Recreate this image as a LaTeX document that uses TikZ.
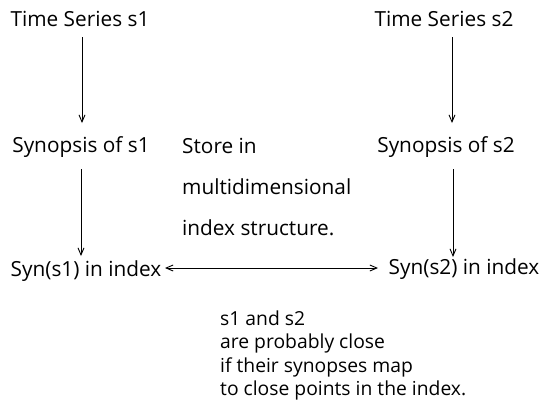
\documentclass[tikz,border=0pt]{standalone}
\usepackage{fontspec}
\setmainfont{Open Sans}
\usetikzlibrary{arrows.meta}
\begin{document}
\begin{tikzpicture}[x=1pt,y=-1pt,
  lbl/.style={anchor=base,inner sep=0pt,font=\fontsize{20.8}{24}\selectfont},
  lblw/.style={anchor=base west,inner sep=0pt,font=\fontsize{20.8}{24}\selectfont},
  note/.style={anchor=base west,inner sep=0pt,font=\fontsize{19.3}{22}\selectfont},
  arr/.style={-{Straight Barb[length=7pt,width=6pt]},line width=0.9pt},
  darr/.style={{Straight Barb[length=7pt,width=6pt]}-{Straight Barb[length=7pt,width=6pt]},line width=0.9pt}]
\useasboundingbox (0,0) rectangle (544,416);
\node[lbl] (ts1) at (80,26) {Time Series s1};
\node[lbl] (ts2) at (444,26) {Time Series s2};
\node[lbl] (sy1) at (81,152) {Synopsis of s1};
\node[lbl] (sy2) at (446,152) {Synopsis of s2};
\node[lbl] (ix1) at (86,276) {Syn(s1) in index};
\node[lbl] (ix2) at (464,274) {Syn(s2) in index};
\node[lblw] (st1) at (182,153) {Store in};
\node[lblw] (st2) at (182,194) {multidimensional};
\node[lblw] (st3) at (182,235) {index structure.};
\node[note] (b1) at (220,325) {s1 and s2};
\node[note] (b2) at (220,348) {are probably close};
\node[note] (b3) at (220,372) {if their synopses map};
\node[note] (b4) at (220,395) {to close points in the index.};
\coordinate (a1s) at (82,37); \coordinate (a1e) at (82,123);
\coordinate (a2s) at (452,37); \coordinate (a2e) at (452,123);
\coordinate (a3s) at (81,169); \coordinate (a3e) at (81,256);
\coordinate (a4s) at (453,169); \coordinate (a4e) at (453,257);
\draw[arr] (a1s) -- (a1e);
\draw[arr] (a2s) -- (a2e);
\draw[arr] (a3s) -- (a3e);
\draw[arr] (a4s) -- (a4e);
\coordinate (hL) at (165,268); \coordinate (hR) at (378,268);
\draw[darr] (hL) -- (hR);
\end{tikzpicture}
\end{document}
